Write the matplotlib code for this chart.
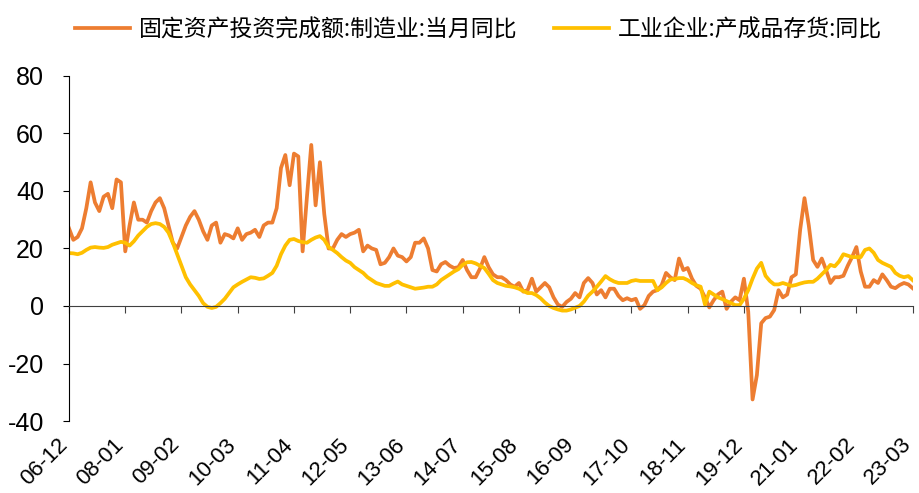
import numpy as np
import matplotlib
matplotlib.use('Agg')
from matplotlib import pyplot as plt

plt.rcParams['font.family'] = ['Liberation Sans', 'Noto Sans CJK SC', 'DejaVu Sans']
plt.rcParams['axes.unicode_minus'] = False

# monthly values, 2006-12 ... 2023-03
fai_mfg = [27,
    23, 24, 27, 34, 43, 36, 33, 38, 39, 34, 44, 43,          # 2007
    19, 28, 36, 30, 30, 29, 33, 36, 37.5, 34, 28, 22,        # 2008
    20, 24, 28, 31, 33, 30, 26, 23, 28, 29, 22, 25,          # 2009
    24.5, 23.5, 27, 23, 25, 25.5, 26.5, 24, 28, 29, 29, 34,  # 2010
    48, 52.5, 42, 53, 52, 19, 38, 56, 35, 50, 32, 20,        # 2011
    20, 23, 25, 24, 25, 25.5, 26.5, 19, 21, 20, 19.5, 14.5,  # 2012
    15, 17, 20, 17.5, 17, 15.5, 17, 22, 22, 23.5, 20, 12.5,  # 2013
    12, 14.5, 15.3, 14, 13.2, 13.5, 16, 12.5, 10, 10, 13, 17,  # 2014
    13.5, 11, 10, 10, 9, 7.5, 6.7, 8, 5, 5.5, 9.5, 5,        # 2015
    6.5, 8, 6.5, 3, 0.5, -0.3, 1.4, 2.5, 4.5, 3, 8, 9.7,     # 2016
    8, 4, 5.5, 3, 6, 6, 3.5, 2, 2.7, 2, 2.5, -1,             # 2017
    0.3, 3.5, 5, 5.5, 7.3, 11.5, 10, 9, 16.5, 12.5, 13.2, 9.5,  # 2018
    7, 6, 3, -0.5, 2, 4, 5, -1, 1.5, 3, 2, 9.5,              # 2019
    -2, -32.5, -24, -6, -4.2, -3.7, -1.4, 5.5, 3, 4, 10, 11,  # 2020
    26.5, 37.5, 28, 16, 13.6, 16.5, 12.5, 8, 10, 10, 10.5, 14,  # 2021
    17, 20.5, 12, 6.7, 6.7, 9, 8, 11, 9, 6.7, 6.2, 7.3,      # 2022
    8, 7.5, 6.2]                                              # 2023

inv_goods = [18.4,
    18.3, 18, 18.5, 19.5, 20.3, 20.5, 20.3, 20.2, 20.5, 21.3, 21.8, 22.3,  # 2007
    22, 21, 22.5, 24.5, 26, 27.5, 28.5, 28.8, 28.5, 27.5, 25.5, 22,        # 2008
    18, 14, 10, 7.5, 5.5, 3.5, 1, -0.3, -0.7, -0.3, 1, 2.5,                # 2009
    4.5, 6.5, 7.5, 8.4, 9.2, 10, 9.8, 9.4, 9.6, 10.5, 11.5, 14,            # 2010
    18, 21, 23, 23.3, 22.6, 22.2, 22, 23, 23.8, 24.3, 23, 20.5,            # 2011
    19.5, 18.4, 17, 15.8, 15, 13.5, 12.5, 11.5, 10, 9, 8, 7.5,             # 2012
    7, 7, 7.8, 8.5, 7.5, 7, 6.5, 6, 6.2, 6.4, 6.7, 6.7,                    # 2013
    7.5, 9, 10, 11, 12, 12.8, 14.3, 15.2, 15.3, 14.8, 14, 13.2,            # 2014
    11.2, 9, 8, 7.5, 7, 6.8, 6.5, 6, 5.2, 4.5, 4.5, 3.8,                   # 2015
    2.7, 1.2, 0, -0.7, -1.2, -1.6, -1.6, -1.2, -0.6, 0, 1.5, 3.6,          # 2016
    5, 6.7, 8.5, 10.4, 9.3, 8.5, 8, 8, 8, 8.7, 9, 8.7,                     # 2017
    8.7, 8.7, 8.7, 5.5, 6.5, 8, 9.2, 9.4, 9.7, 9.7, 9, 8,                  # 2018
    7.2, 6.7, 0.5, 5, 4, 3, 2.4, 1.7, 1, 0.3, 0.3, 2.5,                    # 2019
    5.5, 9.5, 13, 15, 10.5, 8.7, 7.5, 7.5, 8, 7.5, 7, 7.3,                 # 2020
    7.8, 8.2, 8.4, 8.4, 9.5, 11, 12.5, 14.3, 13.8, 15.5, 18, 17.5,         # 2021
    17, 17, 17, 19.5, 20, 18.5, 16, 15, 14.3, 13.6, 11.5, 10.5,            # 2022
    10, 10.4, 9]                                                            # 2023

tick_labels = ['06-12', '08-01', '09-02', '10-03', '11-04', '12-05', '13-06', '14-07',
               '15-08', '16-09', '17-10', '18-11', '19-12', '21-01', '22-02', '23-03']

label_fai = '固定资产投资完成额:制造业:当月同比'
label_inv = '工业企业:产成品存货:同比'

x = np.arange(len(fai_mfg))
tick_pos = np.arange(0, len(fai_mfg), 13)

fig = plt.figure(figsize=(9.2, 4.93), dpi=100)
ax = fig.add_axes([0.075, 0.146, 0.917, 0.700])

ax.plot(x, fai_mfg, color='#ED7D31', lw=2.7, label=label_fai, solid_joinstyle='round')
ax.plot(x, inv_goods, color='#FFC000', lw=2.7, label=label_inv, solid_joinstyle='round')

ax.set_ylim(-40, 80)
ax.set_xlim(0, len(fai_mfg) - 1)
ax.set_yticks(range(-40, 81, 20))
ax.tick_params(axis='y', labelsize=18, length=4, direction='out', pad=14)

ax.spines['top'].set_visible(False)
ax.spines['right'].set_visible(False)
ax.spines['bottom'].set_position(('data', 0))
ax.spines['bottom'].set_color('#404040')
ax.set_xticks(tick_pos)
ax.set_xticklabels([])
ax.tick_params(axis='x', length=5, direction='out', color='#404040')

for p, lab in zip(tick_pos, tick_labels):
    ax.text(p - 2.8, -44.5, lab, rotation=45, ha='right', va='top',
            rotation_mode='anchor', fontsize=16)

leg = fig.legend(loc='upper center', bbox_to_anchor=(0.52, 1.005), ncol=2, frameon=False,
                 prop={'family': ['Noto Sans CJK SC'], 'size': 16.5},
                 handlelength=2.4, handletextpad=0.4, columnspacing=1.6)

fig.savefig('out.png', dpi=100)
